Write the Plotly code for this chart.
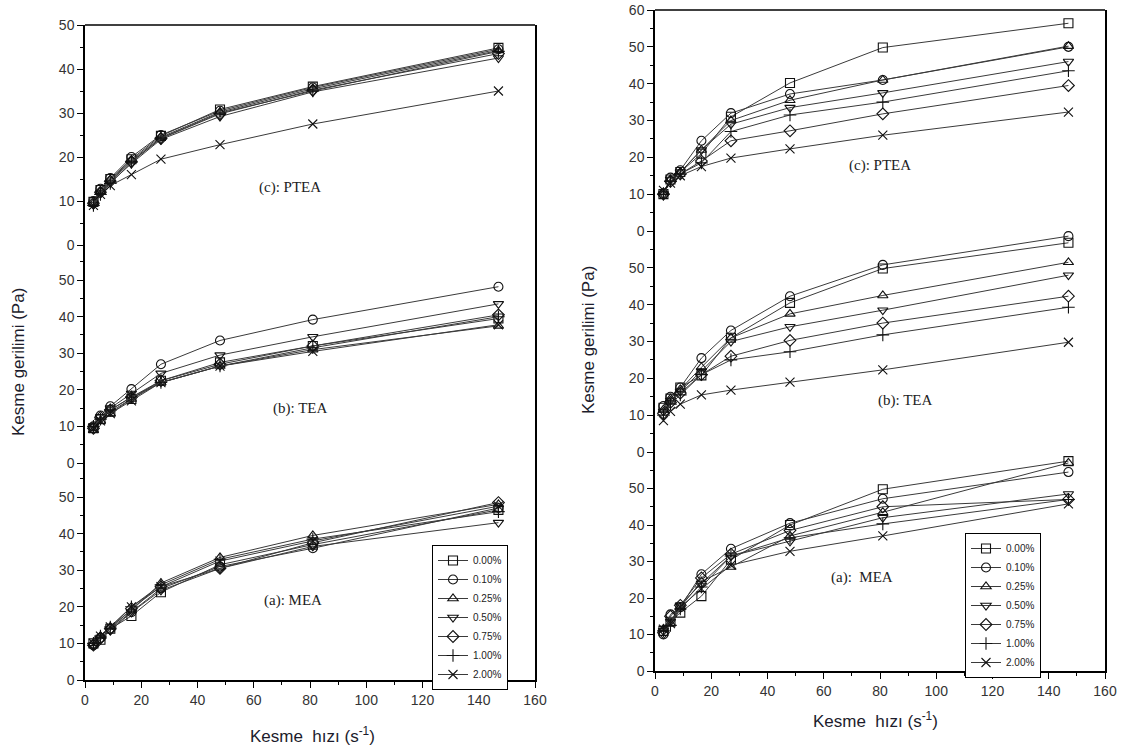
import plotly.graph_objects as go

# shear rate (s^-1)
shear_rate = [3.0, 5.5, 9.0, 16.5, 27.0, 48.0, 81.0, 147.0]

concentrations = ["0.00%", "0.10%", "0.25%", "0.50%", "0.75%", "1.00%", "2.00%"]
symbols = ["square-open", "circle-open", "triangle-up-open", "triangle-down-open",
           "diamond-open", "cross-thin-open", "x-thin-open"]

# left figure, shear stress (Pa)
left_mea = [
    [10.0, 11.0, 14.0, 17.5, 24.0, 31.5, 37.0, 46.5],
    [9.5, 11.5, 14.0, 18.5, 25.0, 31.0, 36.0, 47.0],
    [10.0, 12.0, 14.5, 19.0, 26.5, 33.5, 39.5, 48.0],
    [9.5, 11.0, 13.5, 18.5, 24.5, 30.5, 36.5, 43.0],
    [9.5, 11.5, 14.0, 19.5, 25.5, 30.5, 37.5, 48.5],
    [10.0, 12.0, 14.5, 20.0, 26.0, 33.0, 38.5, 46.0],
    [10.0, 12.0, 14.5, 20.0, 25.5, 32.5, 38.0, 47.5],
]
left_tea = [
    [9.5, 12.0, 14.0, 17.5, 22.5, 27.5, 32.0, 39.5],
    [10.0, 13.0, 15.5, 20.2, 27.0, 33.5, 39.2, 48.2],
    [9.0, 11.5, 13.5, 17.5, 22.0, 26.5, 31.0, 37.5],
    [10.0, 12.5, 15.0, 19.0, 24.5, 29.5, 34.5, 43.5],
    [9.5, 12.5, 14.5, 18.0, 22.5, 27.0, 32.0, 40.5],
    [10.0, 12.0, 14.5, 18.0, 22.0, 26.5, 31.5, 40.0],
    [9.5, 11.5, 13.5, 17.0, 22.0, 26.5, 30.5, 37.8],
]
left_ptea = [
    [9.8, 12.5, 15.0, 19.5, 24.8, 30.8, 36.0, 44.8],
    [10.0, 12.8, 15.2, 20.0, 25.0, 30.5, 35.8, 44.5],
    [9.5, 12.2, 14.8, 19.2, 24.5, 30.2, 35.5, 44.2],
    [9.2, 11.8, 14.2, 18.5, 24.0, 29.2, 34.8, 42.5],
    [9.5, 12.0, 14.5, 19.0, 24.2, 29.8, 35.2, 43.5],
    [9.0, 11.5, 14.0, 18.8, 24.3, 30.0, 35.0, 44.0],
    [9.0, 11.5, 13.5, 16.0, 19.5, 22.8, 27.5, 35.0],
]

# right figure, shear stress (Pa)
right_mea = [
    [11.0, 13.5, 16.0, 20.5, 30.5, 40.0, 49.8, 57.5],
    [10.0, 15.5, 17.5, 26.5, 33.5, 40.5, 47.2, 54.5],
    [11.5, 13.0, 17.5, 24.5, 28.5, 37.0, 43.5, 57.0],
    [11.0, 13.5, 18.0, 24.0, 31.5, 35.5, 42.0, 48.5],
    [10.5, 15.0, 18.0, 25.5, 32.0, 38.5, 45.0, 47.0],
    [11.0, 12.5, 17.0, 23.0, 31.5, 36.5, 40.3, 47.0],
    [11.5, 13.0, 17.5, 22.5, 29.0, 32.8, 37.0, 45.8],
]
right_tea = [
    [12.0, 14.5, 17.5, 20.8, 31.0, 40.5, 49.8, 56.8],
    [12.5, 15.0, 17.5, 25.5, 33.0, 42.3, 50.8, 58.6],
    [11.5, 14.5, 17.0, 23.0, 31.0, 37.5, 42.5, 51.5],
    [11.0, 14.0, 16.5, 22.0, 30.0, 34.0, 38.5, 48.0],
    [10.5, 13.5, 16.0, 21.0, 26.0, 30.3, 35.0, 42.3],
    [10.0, 13.0, 15.5, 21.0, 25.0, 27.2, 31.8, 39.3],
    [8.5, 11.0, 13.0, 15.5, 16.8, 19.0, 22.3, 29.8],
]
right_ptea = [
    [10.0, 14.0, 16.0, 21.0, 31.0, 40.2, 49.8, 56.4],
    [10.0, 14.5, 16.5, 24.5, 32.0, 37.2, 41.0, 50.0],
    [10.5, 14.0, 16.0, 22.0, 30.0, 35.5, 41.0, 50.2],
    [10.0, 14.0, 16.0, 22.0, 29.0, 33.5, 37.5, 46.0],
    [10.0, 13.5, 15.5, 19.0, 24.5, 27.2, 31.8, 39.5],
    [10.0, 13.5, 15.5, 18.5, 27.0, 31.5, 35.0, 43.5],
    [11.0, 13.0, 15.0, 17.5, 19.8, 22.3, 26.0, 32.3],
]

W, H = 1129, 753


def px_x(p):
    return p / W


def px_y(p):
    return 1 - p / H


fig = go.Figure()

# (x axis, y axis, data, legend)
panels = [
    ("x", "y", left_mea, "legend"),
    ("x", "y2", left_tea, None),
    ("x", "y3", left_ptea, None),
    ("x2", "y4", right_mea, "legend2"),
    ("x2", "y5", right_tea, None),
    ("x2", "y6", right_ptea, None),
]

for xa, ya, data, leg in panels:
    for name, sym, vals in zip(concentrations, symbols, data):
        fig.add_trace(go.Scatter(
            x=shear_rate, y=vals, name=name, mode="lines+markers",
            xaxis=xa, yaxis=ya,
            line=dict(color="#3a3a3a", width=1),
            marker=dict(symbol=sym, size=9, color="#111",
                        line=dict(width=1.1, color="#111")),
            showlegend=leg is not None,
            legend=leg if leg else "legend",
        ))

tick_font = dict(family="Liberation Sans, Arial", size=14, color="#333")

xcommon = dict(range=[0, 160], tickvals=list(range(0, 161, 20)), ticks="outside",
               ticklen=6, tickwidth=1.2, tickcolor="black", showline=True,
               linecolor="black", linewidth=1.5, showgrid=False, zeroline=False,
               tickfont=tick_font, automargin=False,
               minor=dict(ticks="outside", dtick=10, ticklen=3, tickcolor="black"))

ycommon = dict(ticks="outside", ticklen=6, tickwidth=1.2, tickcolor="black",
               showline=True, mirror=True, linecolor="black", linewidth=1.5,
               showgrid=False, zeroline=False, tickfont=tick_font, automargin=False,
               ticklabeloverflow="allow",
               minor=dict(ticks="outside", dtick=5, ticklen=3, tickcolor="black"))

left_dom = [px_x(85), px_x(535)]
right_dom = [px_x(655), px_x(1105)]

fig.update_layout(
    xaxis=dict(xcommon, domain=left_dom, anchor="y"),
    xaxis2=dict(xcommon, domain=right_dom, anchor="y4"),
    yaxis=dict(ycommon, domain=[px_y(680), px_y(463)], range=[0, 59.3],
               tickvals=[0, 10, 20, 30, 40, 50], anchor="x"),
    yaxis2=dict(ycommon, domain=[px_y(463), px_y(245)], range=[0, 59.6],
                tickvals=[0, 10, 20, 30, 40, 50], anchor="x"),
    yaxis3=dict(ycommon, domain=[px_y(245), px_y(25)], range=[0, 50],
                tickvals=[0, 10, 20, 30, 40, 50], anchor="x"),
    yaxis4=dict(ycommon, domain=[px_y(671), px_y(452)], range=[0, 60],
                tickvals=[0, 10, 20, 30, 40, 50], anchor="x2"),
    yaxis5=dict(ycommon, domain=[px_y(452), px_y(231)], range=[0, 60],
                tickvals=[0, 10, 20, 30, 40, 50], anchor="x2"),
    yaxis6=dict(ycommon, domain=[px_y(231), px_y(10)], range=[0, 60],
                tickvals=[0, 10, 20, 30, 40, 50, 60], anchor="x2"),
    width=W, height=H,
    margin=dict(l=0, r=0, t=0, b=0, pad=0),
    paper_bgcolor="white", plot_bgcolor="white",
    legend=dict(x=px_x(432), y=px_y(545), xanchor="left", yanchor="top",
                bordercolor="black", borderwidth=1, bgcolor="white",
                font=dict(family="Liberation Sans, Arial", size=10, color="#222"),
                tracegroupgap=0, itemwidth=30),
    legend2=dict(x=px_x(965), y=px_y(533), xanchor="left", yanchor="top",
                 bordercolor="black", borderwidth=1, bgcolor="white",
                 font=dict(family="Liberation Sans, Arial", size=10, color="#222"),
                 tracegroupgap=0, itemwidth=30),
)

# top frame lines
for xd, ytop in [("x domain", px_y(25)), ("x2 domain", px_y(10))]:
    fig.add_shape(type="line", xref=xd, yref="paper", x0=0, x1=1, y0=ytop, y1=ytop,
                  line=dict(color="black", width=1.5))

serif = dict(family="Liberation Serif, Times New Roman", size=15, color="#222")
labels = [
    ("(c): PTEA", 290, 187), ("(b): TEA", 300, 408), ("(a): MEA", 293, 600),
    ("(c): PTEA", 880, 165), ("(b): TEA", 905, 400), ("(a):  MEA", 862, 577),
]
for txt, xp, yp in labels:
    fig.add_annotation(text=txt, x=px_x(xp), y=px_y(yp), xref="paper", yref="paper",
                       xanchor="center", yanchor="middle", showarrow=False, font=serif)

title_font = dict(family="Liberation Sans, Arial", size=17, color="#1c1c2c")
titles = [
    ("Kesme gerilimi (Pa)", 18, 362, -90),
    ("Kesme gerilimi (Pa)", 588, 340, -90),
    ("Kesme  hızı (s<sup>-1</sup>)", 312, 735, 0),
    ("Kesme  hızı (s<sup>-1</sup>)", 875, 720, 0),
]
for txt, xp, yp, ang in titles:
    fig.add_annotation(text=txt, x=px_x(xp), y=px_y(yp), xref="paper", yref="paper",
                       xanchor="center", yanchor="middle", textangle=ang,
                       showarrow=False, font=title_font)

# drop the default 8px body margin so the figure fills the window
fig.write_html("out.html", config={"displayModeBar": False},
               post_script="document.body.style.margin='0px';")
